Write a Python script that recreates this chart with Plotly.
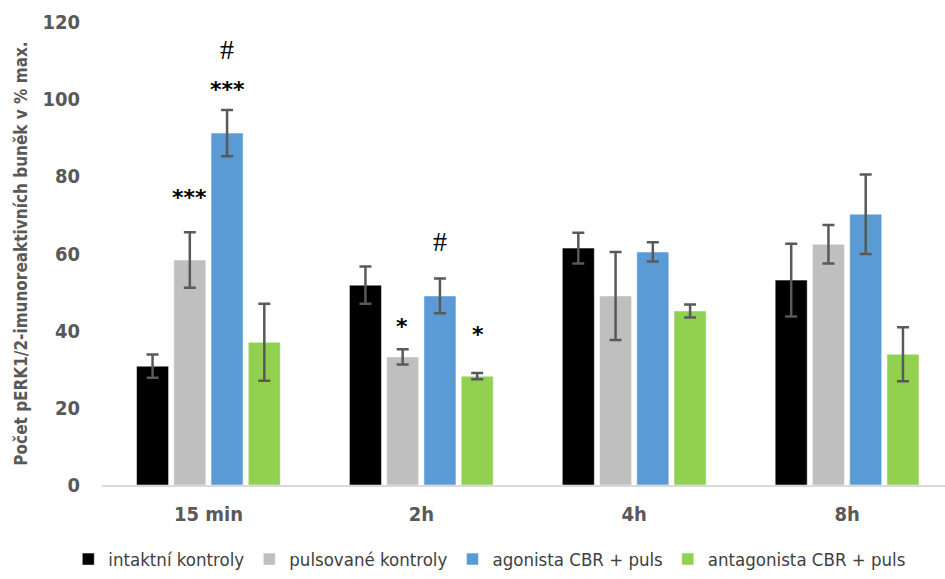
import plotly.graph_objects as go

categories = ["15 min", "2h", "4h", "8h"]
series_names = ["intaktní kontroly", "pulsované kontroly", "agonista CBR + puls", "antagonista CBR + puls"]
colors = ["#000000", "#bfbfbf", "#5b9bd5", "#92d050"]

intaktni = [30.8, 51.8, 61.4, 53.1]
intaktni_err = [3.0, 4.8, 4.0, 9.4]
pulsovane = [58.3, 33.2, 49.0, 62.4]
pulsovane_err = [7.2, 2.0, 11.4, 5.0]
agonista = [91.2, 49.0, 60.4, 70.2]
agonista_err = [6.0, 4.5, 2.5, 10.3]
antagonista = [37.0, 28.2, 45.1, 33.9]
antagonista_err = [10.0, 0.8, 1.7, 7.0]

values = [intaktni, pulsovane, agonista, antagonista]
errors = [intaktni_err, pulsovane_err, agonista_err, antagonista_err]

# significance marks: (category, series index, y value, text)
marks_cat = ["15 min", "15 min", "15 min", "2h", "2h", "2h"]
marks_series = [2, 1, 2, 1, 2, 3]
marks_y = [113.0, 74.5, 102.5, 41.0, 63.0, 39.0]
marks_text = ["#", "***", "***", "*", "#", "*"]

FONT = "DejaVu Sans Condensed, Liberation Sans Narrow, sans-serif"

fig = go.Figure()
for name, col, v, e in zip(series_names, colors, values, errors):
    fig.add_trace(go.Bar(
        x=categories, y=v, name=name,
        marker=dict(color=col, line=dict(color="#ffffff", width=0.5)),
        error_y=dict(type="data", array=e, visible=True, color="#595959", thickness=2.5, width=6),
    ))

offsets = [-57, -19, 19, 57]
for c, s, yv, t in zip(marks_cat, marks_series, marks_y, marks_text):
    is_hash = t == "#"
    fig.add_annotation(
        x=c, y=yv, text=t, showarrow=False, xshift=offsets[s], yanchor="middle",
        font=dict(family="Liberation Serif, serif" if is_hash else "DejaVu Sans, sans-serif",
                  size=28 if is_hash else 22, color="#000000", weight="normal" if is_hash else "bold"),
    )

fig.update_layout(
    width=945, height=579,
    margin=dict(l=102, r=0, t=22, b=94, autoexpand=False),
    plot_bgcolor="#ffffff", paper_bgcolor="#ffffff",
    barmode="group", bargap=0.30, bargroupgap=0.14,
    showlegend=True,
    legend=dict(orientation="h", x=0.46, xanchor="center", xref="paper",
                y=-0.12, yanchor="top", bgcolor="rgba(0,0,0,0)",
                font=dict(family=FONT, size=18.5, color="#404040"),
                itemwidth=30, tracegroupgap=0),
    font=dict(family=FONT),
)
fig.update_xaxes(
    range=[-0.5, 3.46], showline=True, linecolor="#d9d9d9", linewidth=2,
    ticks="", showgrid=False, ticklabelstandoff=10,
    tickfont=dict(family=FONT, size=20, color="#595959", weight="bold"),
)
fig.update_yaxes(
    range=[0, 120], dtick=20, showgrid=False, zeroline=False, showline=False,
    ticks="", ticklabelstandoff=21,
    tickfont=dict(family=FONT, size=20, color="#595959", weight="bold"),
    title=dict(text="Počet pERK1/2-imunoreaktivních buněk v % max.",
               font=dict(family=FONT, size=17, color="#595959", weight="bold"), standoff=10),
)
fig.write_html("out.html")
